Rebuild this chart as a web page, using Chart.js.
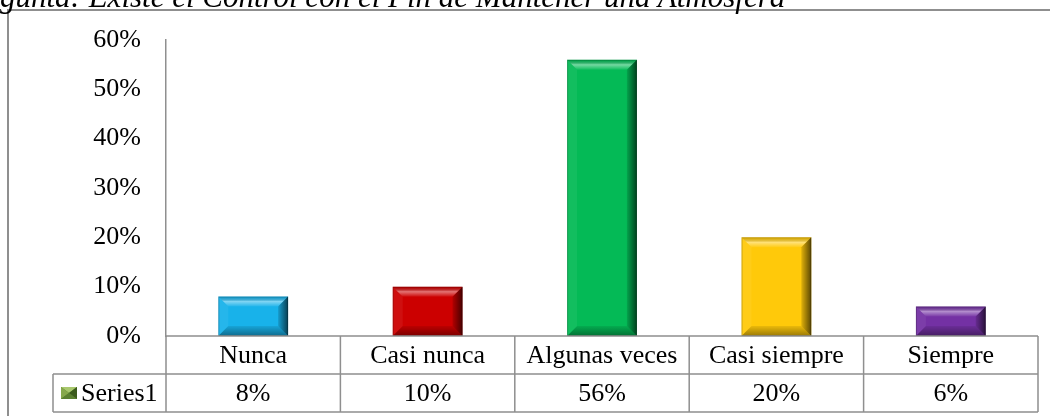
<!DOCTYPE html>
<html>
<head>
<meta charset="utf-8">
<script src="https://cdn.jsdelivr.net/npm/chart.js@4"></script>
<style>
    body { margin: 0; background: #fff; }
    #wrap { position: relative; width: 1050px; height: 416px; overflow: hidden; }
    #title {
        position: absolute; left: 0; top: -19px; white-space: nowrap;
        font: italic 31px/1 "Liberation Serif", serif; color: #000;
    }
    canvas { position: absolute; left: 0; top: 0; }
</style>
</head>
<body>
<div id="wrap">
    <canvas id="myChart" width="1050" height="416"></canvas>
    <div id="title">gunta: Existe el Control con el Fin de Mantener una Atmosfera</div>
</div>
<script>
// ---------------------------------- data ----------------------------------
const categories = ["Nunca", "Casi nunca", "Algunas veces", "Casi siempre", "Siempre"];
const values = [8, 10, 56, 20, 6];
const seriesName = "Series1";
const barColors = ["#18B2EA", "#CC0000", "#04BA56", "#FFC90A", "#7431A4"];
const yTicks = [0, 10, 20, 30, 40, 50, 60];

const FONT = '"Liberation Serif", "Times New Roman", serif';
const LINE = "#8f8f8f";
const ROW_H = 38;

// ------------------------------- bevel on bars ------------------------------
const bevelPlugin = {
    id: "bevel",
    afterDatasetsDraw(chart) {
        const ctx = chart.ctx;
        chart.getDatasetMeta(0).data.forEach(bar => {
            const p = bar.getProps(["x", "y", "base", "width"], true);
            const l = p.x - p.width / 2, r = p.x + p.width / 2;
            const t = p.y, b = p.base;
            const s = Math.min(10, (b - t) / 2, p.width / 2);
            const poly = (pts, fill) => {
                ctx.beginPath();
                ctx.moveTo(pts[0][0], pts[0][1]);
                pts.slice(1).forEach(q => ctx.lineTo(q[0], q[1]));
                ctx.closePath();
                ctx.fillStyle = fill;
                ctx.fill();
            };
            ctx.save();
            // top (light band)
            let g = ctx.createLinearGradient(0, t, 0, t + s);
            g.addColorStop(0, "rgba(0,0,0,0.05)");
            g.addColorStop(0.5, "rgba(255,255,255,0.45)");
            g.addColorStop(1, "rgba(255,255,255,0.05)");
            poly([[l, t], [r, t], [r - s, t + s], [l + s, t + s]], g);
            // left (slightly light)
            poly([[l, t], [l + s, t + s], [l + s, b - s], [l, b]], "rgba(255,255,255,0.06)");
            // right (dark)
            g = ctx.createLinearGradient(r - s, 0, r, 0);
            g.addColorStop(0, "rgba(0,0,0,0.12)");
            g.addColorStop(1, "rgba(0,0,0,0.65)");
            poly([[r, t], [r, b], [r - s, b - s], [r - s, t + s]], g);
            // bottom (dark)
            g = ctx.createLinearGradient(0, b - s, 0, b);
            g.addColorStop(0, "rgba(0,0,0,0.08)");
            g.addColorStop(1, "rgba(0,0,0,0.4)");
            poly([[l, b], [r, b], [r - s, b - s], [l + s, b - s]], g);
            ctx.strokeStyle = "rgba(0,0,0,0.2)";
            ctx.lineWidth = 1;
            ctx.strokeRect(l + 0.5, t + 0.5, p.width - 1, b - t - 1);
            ctx.restore();
        });
    }
};

// ------------------------------- data table + frame ------------------------------
const tablePlugin = {
    id: "dataTable",
    afterDraw(chart) {
        const ctx = chart.ctx;
        const area = chart.chartArea;
        const xs = chart.scales.x;
        const half = (xs.getPixelForValue(1) - xs.getPixelForValue(0)) / 2;
        const top = area.bottom, mid = top + ROW_H, bot = mid + ROW_H;
        const keyLeft = 53;

        ctx.save();
        // outer frame (left + top visible)
        ctx.strokeStyle = LINE;
        ctx.lineWidth = 2;
        ctx.beginPath();
        ctx.moveTo(8, 430);
        ctx.lineTo(8, 10);
        ctx.lineTo(1060, 10);
        ctx.stroke();

        ctx.lineWidth = 1.5;
        ctx.beginPath();
        ctx.moveTo(area.left, top); ctx.lineTo(area.right, top);
        ctx.moveTo(keyLeft, mid); ctx.lineTo(area.right, mid);
        ctx.moveTo(keyLeft, bot); ctx.lineTo(area.right, bot);
        ctx.moveTo(keyLeft, mid); ctx.lineTo(keyLeft, bot);
        ctx.moveTo(area.left, top); ctx.lineTo(area.left, bot);
        categories.forEach((c, i) => {
            const xr = xs.getPixelForValue(i) + half;
            ctx.moveTo(xr, top); ctx.lineTo(xr, bot);
        });
        ctx.stroke();

        ctx.fillStyle = "#000";
        ctx.font = "26px " + FONT;
        ctx.textAlign = "center";
        ctx.textBaseline = "middle";
        categories.forEach((c, i) => {
            const cx = xs.getPixelForValue(i);
            ctx.fillText(c, cx, top + ROW_H / 2 + 1);
            ctx.fillText(values[i] + "%", cx, mid + ROW_H / 2 + 1);
        });

        // legend key
        const kx = 61, ky = mid + ROW_H / 2 - 6, kw = 16, kh = 12;
        ctx.fillStyle = "#4f7a2a";
        ctx.fillRect(kx, ky, kw, kh);
        const tri = (pts, fill) => {
            ctx.beginPath();
            ctx.moveTo(pts[0][0], pts[0][1]);
            pts.slice(1).forEach(q => ctx.lineTo(q[0], q[1]));
            ctx.closePath();
            ctx.fillStyle = fill;
            ctx.fill();
        };
        const cxk = kx + kw / 2, cyk = ky + kh / 2;
        tri([[kx, ky], [kx + kw, ky], [cxk, cyk]], "#a9c86e");
        tri([[kx, ky], [kx, ky + kh], [cxk, cyk]], "#86a84c");
        tri([[kx + kw, ky], [kx + kw, ky + kh], [cxk, cyk]], "#3b5a1c");
        tri([[kx, ky + kh], [kx + kw, ky + kh], [cxk, cyk]], "#5a7f30");
        ctx.fillStyle = "#000";
        ctx.textAlign = "left";
        ctx.fillText(seriesName, 81, mid + ROW_H / 2 + 1);
        ctx.restore();
    }
};

// ------------------------------- chart ------------------------------
const ctx = document.getElementById("myChart");
new Chart(ctx, {
    type: "bar",
    data: {
        labels: categories,
        datasets: [{
            label: seriesName,
            data: values,
            backgroundColor: barColors,
            borderWidth: 0,
            categoryPercentage: 1,
            barPercentage: 0.4
        }]
    },
    options: {
        responsive: false,
        animation: false,
        layout: { padding: { top: 40, right: 12, bottom: 4, left: 0 } },
        plugins: {
            legend: { display: false },
            tooltip: { enabled: false }
        },
        scales: {
            x: {
                grid: { display: false },
                border: { display: false },
                ticks: { display: false },
                afterFit: scale => { scale.height = ROW_H * 2; }
            },
            y: {
                min: 0,
                max: 60,
                afterBuildTicks: scale => { scale.ticks = yTicks.map(v => ({ value: v })); },
                grid: { display: false },
                border: { display: true, color: LINE, width: 1.5 },
                ticks: {
                    color: "#000",
                    font: { family: FONT, size: 26 },
                    padding: 17,
                    callback: v => v + "%"
                },
                afterFit: scale => { scale.width = 166; }
            }
        }
    },
    plugins: [bevelPlugin, tablePlugin]
});
</script>
</body>
</html>
